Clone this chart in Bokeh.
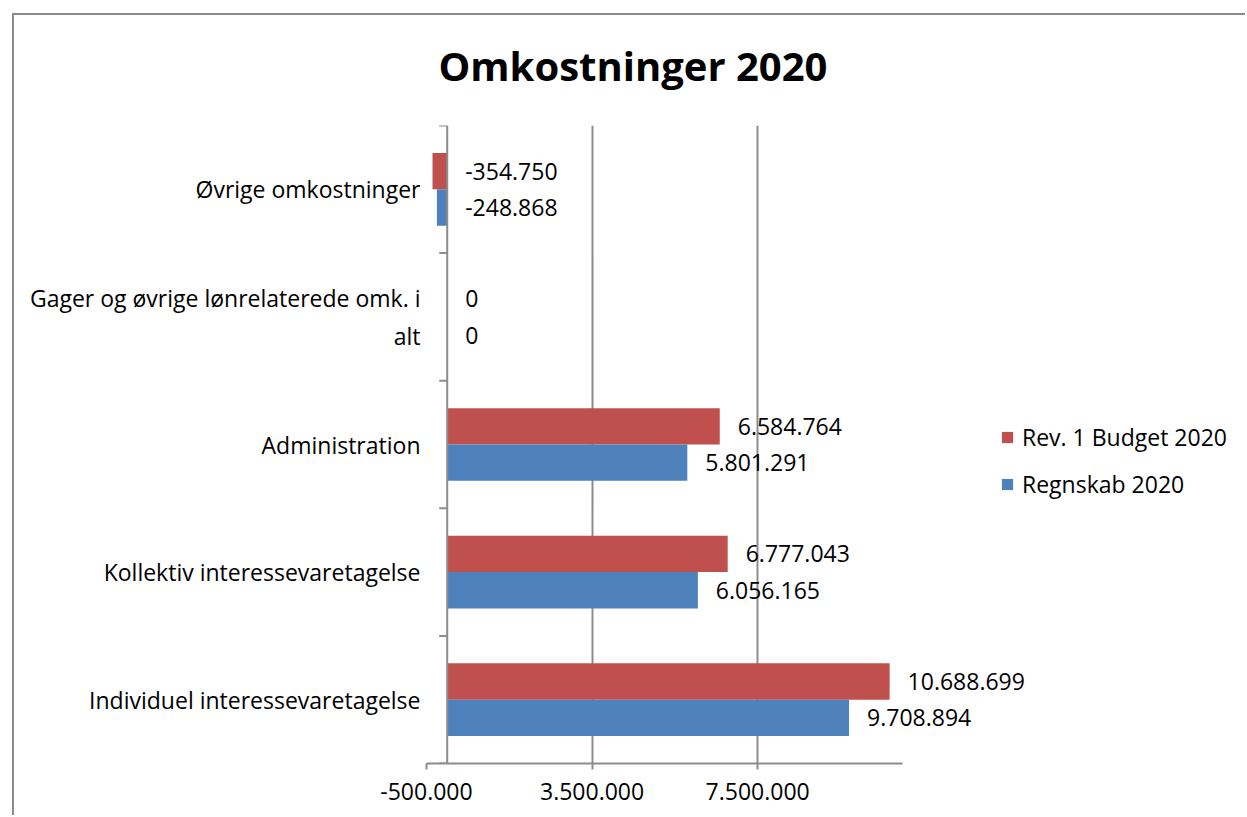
from bokeh.plotting import figure
from bokeh.models import Range1d, FixedTicker, Span, Legend, LegendItem, ColumnDataSource, Title
from bokeh.core.properties import value
from bokeh.embed import file_html
from bokeh.resources import INLINE
import numpy as np

# ---- data ----
categories = [
    "Individuel interessevaretagelse",
    "Kollektiv interessevaretagelse",
    "Administration",
    "Gager og øvrige lønrelaterede omk. i\nalt",
    "Øvrige omkostninger",
]
budget = [10688699, 6777043, 6584764, 0, -354750]
regnskab = [9708894, 6056165, 5801291, 0, -248868]
series_names = ["Rev. 1 Budget 2020", "Regnskab 2020"]
series_colors = ["#C0504D", "#4F81BD"]
tick_values = [-500000, 3500000, 7500000]
tick_labels = ["-500.000", "3.500.000", "7.500.000"]
axis_start, axis_end = -500000, 11000000
title_text = "Omkostninger 2020"

FONT = "Open Sans"
GRID = "#8c8c8c"

def fmt(v):
    return f"{v:,}".replace(",", ".")

# layout (pixels)
W, H = 1245, 815
FL, FT, FH = 426, 125, 638
AXIS_PX = 476                      # pixel length of the value axis
FW = W - FL                        # frame extends to the right edge (room for labels/legend)
x_end = axis_start + FW * (axis_end - axis_start) / AXIS_PX

p = figure(width=W, height=H, output_backend="svg", toolbar_location=None,
           x_range=Range1d(axis_start, x_end), y_range=Range1d(-0.5, len(categories) - 0.5),
           min_border_left=FL, min_border_top=FT, min_border_right=0,
           min_border_bottom=H - FT - FH)
# chart-area border (left and top edges) drawn as the host background
p.styles = {"background": "linear-gradient(#8c8c8c,#8c8c8c) 12px 13px / 100% 2px no-repeat, "
                          "linear-gradient(#8c8c8c,#8c8c8c) 12px 13px / 2px 100% no-repeat, white"}
p.outline_line_color = None
p.background_fill_color = "white"
p.border_fill_color = None

p.title = Title(text=title_text, align="left", offset=12, standoff=66,
                text_font=FONT, text_font_size="40px", text_font_style="bold",
                text_color="black")

idx = np.arange(len(categories))
bar_h = 0.285
offsets = [bar_h / 2, -bar_h / 2]
renderers = []
for vals, name, color, off in zip([budget, regnskab], series_names, series_colors, offsets):
    src = ColumnDataSource(dict(
        y=idx + off, right=vals,
        lx=[max(v, 0) for v in vals],
        lab=[fmt(v) for v in vals],
    ))
    r = p.hbar(y="y", left=0, right="right", height=bar_h, source=src,
               fill_color=color, line_color=None)
    renderers.append(r)
    p.text(x="lx", y="y", text="lab", source=src, x_offset=18,
           text_font=value(FONT), text_font_size="23px", text_color="black",
           text_align="left", text_baseline="middle")

# zero axis line and its category ticks
p.add_layout(Span(location=0, dimension="height", line_color=GRID, line_width=2))
bounds = np.arange(len(categories) + 1) - 0.5
p.ray(x=[0] * len(bounds), y=bounds, length=8, length_units="screen", angle=np.pi,
      line_color=GRID, line_width=2)

# x axis
p.xaxis.bounds = (axis_start, axis_end)
p.xaxis.ticker = FixedTicker(ticks=tick_values)
p.xaxis.major_label_overrides = {t: l for t, l in zip(tick_values, tick_labels)}
p.xaxis.axis_line_color = GRID
p.xaxis.axis_line_width = 2
p.xaxis.major_tick_line_color = GRID
p.xaxis.major_tick_line_width = 2
p.xaxis.major_tick_out = 6
p.xaxis.major_tick_in = 0
p.xaxis.minor_tick_line_color = None
p.xaxis.major_label_standoff = 13
p.xaxis.major_label_text_font = FONT
p.xaxis.major_label_text_font_size = "23px"
p.xaxis.major_label_text_color = "black"

p.xgrid.ticker = FixedTicker(ticks=tick_values)
p.xgrid.grid_line_color = GRID
p.xgrid.grid_line_width = 2
p.ygrid.grid_line_color = None

# y axis (category labels)
p.yaxis.ticker = FixedTicker(ticks=list(idx))
p.yaxis.major_label_overrides = {int(i): c for i, c in zip(idx, categories)}
p.yaxis.axis_line_color = None
p.yaxis.major_tick_line_color = None
p.yaxis.major_tick_out = 0
p.yaxis.major_tick_in = 0
p.yaxis.minor_tick_line_color = None
p.yaxis.major_label_standoff = 6
p.yaxis.major_label_text_font = FONT
p.yaxis.major_label_text_font_size = "23px"
p.yaxis.major_label_text_color = "black"

legend = Legend(items=[LegendItem(label=n, renderers=[r]) for n, r in zip(series_names, renderers)],
                location=(574, 263), orientation="vertical",
                glyph_width=14, glyph_height=14, label_standoff=8,
                label_height=30, spacing=15, padding=0, margin=0,
                border_line_color=None, background_fill_alpha=0,
                label_text_font=FONT, label_text_font_size="23px", label_text_color="black")
p.add_layout(legend, "center")

open("out.html", "w").write(file_html(p, INLINE))
